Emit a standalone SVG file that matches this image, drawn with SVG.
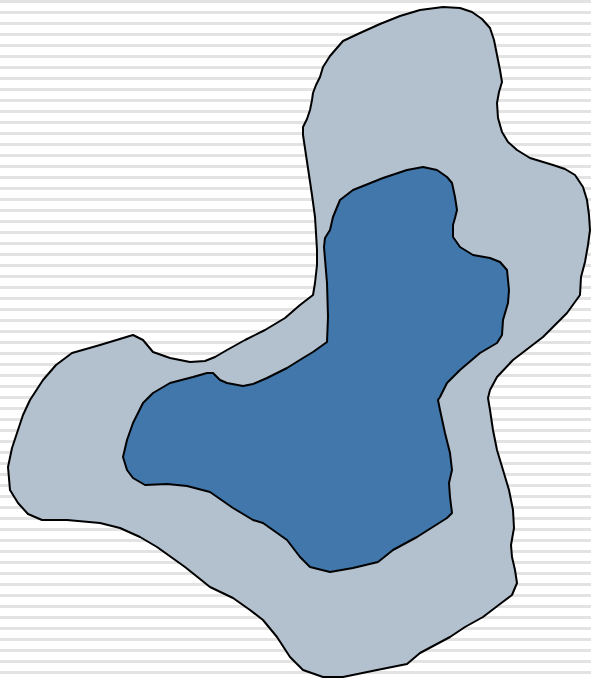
<svg xmlns="http://www.w3.org/2000/svg" width="591" height="680" viewBox="0 0 591 680">
  <defs>
    <pattern id="stripes" x="0" y="0" width="591" height="11" patternUnits="userSpaceOnUse">
      <rect x="0" y="0" width="591" height="3" fill="#e3e3e3"/>
    </pattern>
    <style>
      .region { stroke: #000; stroke-width: 2; stroke-linejoin: round; }
      #outer path { fill: #b3c1cf; }
      #inner path { fill: #4177aa; }
    </style>
  </defs>
  <rect x="0" y="0" width="591" height="680" fill="#fff"/>
  <rect x="0" y="0" width="591" height="680" fill="url(#stripes)"/>
  <g id="outer">
    <path class="region" d="M343,41 L360,33 L380,24 L400,16 L420,10 L443,7 L460,8 L472,12 L482,19 L490,28 L494,40 L497,55 L500,70 L502,82 L499,92 L497,103 L498,118 L502,132 L508,142 L517,150 L530,158 L553,165 L565,169 L575,175 L583,187 L587,200 L589,215 L590,230 L588,245 L585,262 L581,277 L580,295 L567,313 L543,337 L513,360 L497,377 L490,390 L488,398 L490,410 L493,430 L497,450 L503,470 L509,490 L513,510 L514,528 L511,545 L512,557 L515,570 L517,583 L512,595 L500,604 L483,617 L465,627 L450,637 L420,653 L407,664 L377,670 L343,677 L323,677 L303,670 L290,657 L277,637 L263,620 L250,610 L233,598 L210,587 L185,567 L157,547 L140,537 L120,528 L100,523 L67,520 L42,520 L28,514 L18,503 L10,490 L8,467 L12,448 L17,433 L23,415 L30,400 L43,380 L56,365 L72,353 L100,345 L133,335 L143,340 L153,352 L170,358 L190,362 L205,361 L215,357 L227,350 L245,340 L265,330 L285,318 L300,305 L313,295 L315,283 L317,265 L317,250 L316,233 L315,217 L312,195 L309,175 L306,155 L303,135 L303,127 L307,119 L310,110 L312,100 L313,93 L316,85 L320,77 L323,67 L330,56 Z"/>
  </g>
  <g id="inner">
    <path class="region" d="M353,190 L383,178 L407,170 L423,167 L437,170 L447,177 L452,183 L455,197 L457,210 L455,218 L453,225 L453,237 L460,247 L473,255 L490,258 L500,262 L507,270 L509,290 L508,303 L503,320 L502,335 L497,343 L480,353 L460,370 L447,383 L440,397 L438,400 L440,410 L445,433 L450,453 L452,470 L449,483 L450,497 L452,513 L447,518 L417,537 L393,550 L378,562 L353,568 L330,572 L310,567 L300,557 L287,540 L263,523 L253,520 L233,508 L210,492 L187,486 L167,484 L145,485 L133,478 L127,470 L123,457 L127,440 L133,423 L143,403 L153,393 L170,383 L193,377 L207,373 L213,373 L220,380 L227,383 L243,386 L253,384 L267,378 L287,368 L303,358 L313,352 L327,342 L328,317 L327,283 L324,247 L325,238 L330,230 L333,217 L340,200 Z"/>
  </g>
</svg>
